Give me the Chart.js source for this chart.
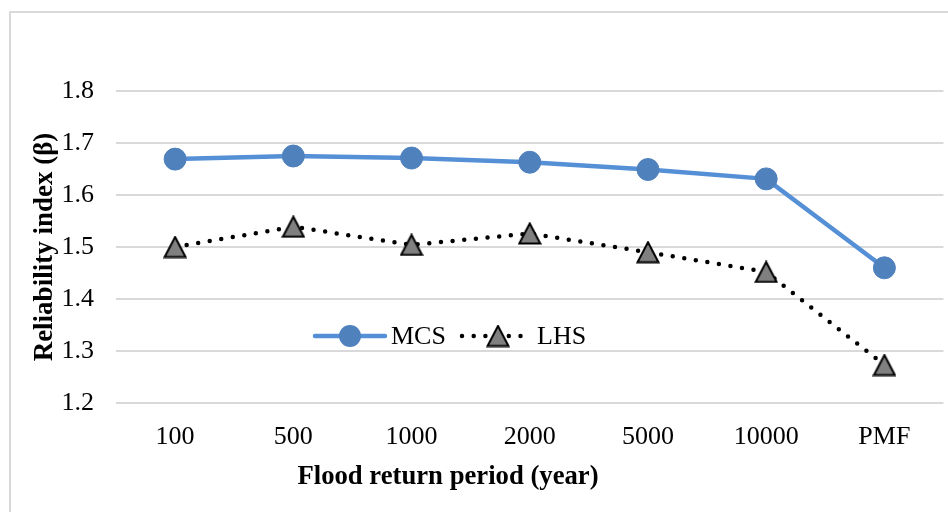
<!DOCTYPE html>
<html>
<head>
<meta charset="utf-8">
<script src="https://cdn.jsdelivr.net/npm/chart.js@4.4.1/dist/chart.umd.min.js"></script>
<style>
  html, body { margin: 0; padding: 0; background: #fff; overflow: hidden; }
  body { width: 948px; height: 512px; position: relative; }
  #frame { position: absolute; left: 9px; top: 11px; width: 1000px; height: 1000px;
           border-left: 2px solid #d9d9d9; border-top: 2px solid #d9d9d9; }
  #wrap { position: absolute; left: 0; top: 0; width: 960px; height: 512px; }
</style>
</head>
<body>
<div id="frame"></div>
<div id="wrap"><canvas id="chart" width="960" height="512"></canvas></div>
<script>
// data
const periods = ["100", "500", "1000", "2000", "5000", "10000", "PMF"];
const mcsValues = [1.669, 1.675, 1.671, 1.663, 1.649, 1.631, 1.460];
const lhsValues = [1.500, 1.539, 1.504, 1.526, 1.490, 1.452, 1.273];
const yTicks = [1.2, 1.3, 1.4, 1.5, 1.6, 1.7, 1.8];
const xTitle = "Flood return period (year)";
const yTitle = "Reliability index (β)";

const serif = "'Liberation Serif', 'Times New Roman', serif";

// excel-like triangle marker (centered on its box)
function makeTriangle() {
	const c = document.createElement("canvas");
	c.width = 24;
	c.height = 23;
	const g = c.getContext("2d");
	g.beginPath();
	g.moveTo(12, 1.5);
	g.lineTo(22.5, 21.5);
	g.lineTo(1.5, 21.5);
	g.closePath();
	g.fillStyle = "#808080";
	g.fill();
	g.lineWidth = 2;
	g.strokeStyle = "#000";
	g.lineJoin = "miter";
	g.stroke();
	return c;
}
const triangle = makeTriangle();

// legend inside the plot area + x title (off-centre like the original)
const extras = {
	id: "extras",
	afterDatasetsDraw(chart) {
		const ctx = chart.ctx;
		const y = 336;
		ctx.save();
		// MCS
		const mcs = chart.data.datasets[0];
		ctx.beginPath();
		ctx.moveTo(315, y);
		ctx.lineTo(385, y);
		ctx.strokeStyle = mcs.borderColor;
		ctx.lineWidth = mcs.borderWidth;
		ctx.lineCap = "round";
		ctx.stroke();
		ctx.beginPath();
		ctx.arc(350, y, 11, 0, Math.PI * 2);
		ctx.fillStyle = mcs.pointBackgroundColor;
		ctx.fill();
		// LHS
		const lhs = chart.data.datasets[1];
		ctx.beginPath();
		ctx.setLineDash(lhs.borderDash);
		ctx.moveTo(462, y);
		ctx.lineTo(527, y);
		ctx.strokeStyle = lhs.borderColor;
		ctx.lineWidth = lhs.borderWidth;
		ctx.lineCap = "round";
		ctx.stroke();
		ctx.setLineDash([]);
		ctx.drawImage(triangle, 498 - 12, y - 11.5);
		// labels
		ctx.fillStyle = "#000";
		ctx.font = "26px " + serif;
		ctx.textBaseline = "middle";
		ctx.textAlign = "left";
		ctx.fillText(mcs.label, 391, y + 1);
		ctx.fillText(lhs.label, 537, y + 1);
		// x axis title
		ctx.font = "bold 26.7px " + serif;
		ctx.textAlign = "center";
		ctx.fillText(xTitle, 448, 477);
		ctx.restore();
	},
};

new Chart(document.getElementById("chart"), {
	type: "line",
	data: {
		labels: periods,
		datasets: [
			{
				label: "MCS",
				data: mcsValues,
				borderColor: "#5590d6",
				borderWidth: 4.5,
				pointStyle: "circle",
				pointRadius: 11,
				pointHoverRadius: 11,
				pointBackgroundColor: "#4f81bd",
				pointBorderColor: "#4f81bd",
				pointBorderWidth: 1,
				tension: 0,
			},
			{
				label: "LHS",
				data: lhsValues,
				borderColor: "#000",
				borderWidth: 4.5,
				borderDash: [0, 11.7],
				borderCapStyle: "round",
				pointStyle: triangle,
				pointRadius: 12,
				tension: 0,
			},
		],
	},
	options: {
		responsive: false,
		animation: false,
		events: [],
		layout: { padding: { left: 0, top: 91, right: 0, bottom: 0 } },
		plugins: {
			legend: { display: false },
			tooltip: { enabled: false },
		},
		scales: {
			x: {
				offset: true,
				grid: { display: false, drawTicks: false },
				border: { display: false },
				ticks: {
					padding: 19,
					color: "#000",
					font: { family: serif, size: 26 },
					maxRotation: 0,
				},
				afterFit(scale) {
					scale.height = 109;
				},
			},
			y: {
				min: 1.2,
				max: 1.8,
				afterBuildTicks(scale) {
					scale.ticks = yTicks.map((v) => ({ value: v }));
				},
				grid: { color: "#d9d9d9", lineWidth: 2, drawTicks: false },
				border: { display: false },
				ticks: {
					padding: 22,
					color: "#000",
					font: { family: serif, size: 26 },
					callback: (v) => v.toFixed(1),
				},
				title: {
					display: true,
					text: yTitle,
					color: "#000",
					font: { family: serif, size: 27, weight: "bold" },
					padding: { top: 29, bottom: 0 },
				},
				afterFit(scale) {
					scale.width = 116;
				},
			},
		},
	},
	plugins: [extras],
});
</script>
</body>
</html>
